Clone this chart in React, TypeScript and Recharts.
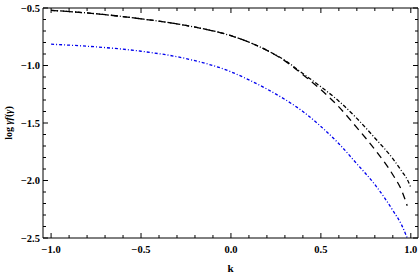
import React from 'react';
import { Label, Line, LineChart, XAxis, YAxis } from 'recharts';

// sample points along k
const K = [-1, -0.75, -0.5, -0.25, 0, 0.1, 0.2, 0.3, 0.4, 0.5, 0.6, 0.7, 0.8, 0.9, 0.95, 0.98, 1.0];
// black dot-dashed curve
const DOT_DASHED = [-0.52, -0.55, -0.594, -0.652, -0.741, -0.797, -0.868, -0.955, -1.07, -1.185, -1.31, -1.46, -1.63, -1.81, -1.92, -1.99, -2.06];
// black long-dashed curve
const LONG_DASHED = [-0.52, -0.55, -0.594, -0.652, -0.741, -0.797, -0.868, -0.96, -1.08, -1.21, -1.36, -1.54, -1.73, -1.95, -2.09, -2.22, null];
// blue curve
const BLUE = [-0.815, -0.838, -0.876, -0.94, -1.055, -1.125, -1.205, -1.295, -1.4, -1.53, -1.68, -1.855, -2.035, -2.26, -2.39, -2.5, null];

const X_TICKS = [-1, -0.9, -0.8, -0.7, -0.6, -0.5, -0.4, -0.3, -0.2, -0.1, 0, 0.1, 0.2, 0.3, 0.4, 0.5, 0.6, 0.7, 0.8, 0.9, 1];
const Y_TICKS = [-2.5, -2.4, -2.3, -2.2, -2.1, -2, -1.9, -1.8, -1.7, -1.6, -1.5, -1.4, -1.3, -1.2, -1.1, -1, -0.9, -0.8, -0.7, -0.6, -0.5];

const data = K.map((k, i) => ({ k, a: DOT_DASHED[i], b: LONG_DASHED[i], c: BLUE[i] }));

const FONT = '"Liberation Serif", "DejaVu Serif", serif';
const isMajor = (v: number) => Math.abs(v * 2 - Math.round(v * 2)) < 1e-6;
const fmt = (v: number) => (v < 0 ? '\u2212' : '') + Math.abs(v).toFixed(1);
const len = (v: number) => (isMajor(v) ? 5 : 3);

const BottomTick = ({ x, y, payload }: any) => (
  <g>
    <line x1={x} y1={y} x2={x} y2={y - len(payload.value)} stroke="#000" />
    {isMajor(payload.value) && (
      <text x={x} y={y + 15} textAnchor="middle" fontFamily={FONT} fontWeight="bold" fontSize={10.5} fill="#000">
        {fmt(payload.value)}
      </text>
    )}
  </g>
);
const TopTick = ({ x, y, payload }: any) => (
  <line x1={x} y1={y} x2={x} y2={y + len(payload.value)} stroke="#000" />
);
const LeftTick = ({ x, y, payload }: any) => (
  <g>
    <line x1={x} y1={y} x2={x + len(payload.value)} y2={y} stroke="#000" />
    {isMajor(payload.value) && (
      <text x={x - 3} y={y + 3.5} textAnchor="end" fontFamily={FONT} fontWeight="bold" fontSize={10.5} fill="#000">
        {fmt(payload.value)}
      </text>
    )}
  </g>
);
const RightTick = ({ x, y, payload }: any) => (
  <line x1={x} y1={y} x2={x - len(payload.value)} y2={y} stroke="#000" />
);

const YLabel = ({ viewBox }: any) => {
  const cx = viewBox.x + 8;
  const cy = viewBox.y + viewBox.height / 2;
  return (
    <text x={cx} y={cy} transform={`rotate(-90, ${cx}, ${cy})`} textAnchor="middle" dominantBaseline="central"
      fontFamily={FONT} fontWeight="bold" fontSize={10} fill="#000">
      log <tspan fontStyle="italic">γf</tspan>(<tspan fontStyle="italic">γ</tspan>)
    </text>
  );
};

const X_DOMAIN = [-1.045, 1.04];
const Y_DOMAIN = [-2.5, -0.5];

export default function App() {
  return (
    <div style={{ position: 'absolute', left: 0, top: 0 }}>
      <LineChart width={420} height={276} data={data} margin={{ top: 7, right: 1, bottom: 0, left: 0 }}>
        <XAxis xAxisId="b" dataKey="k" type="number" domain={X_DOMAIN} ticks={X_TICKS} interval={0}
          allowDataOverflow height={38} tickSize={0} tickMargin={0} tickLine={false} tick={<BottomTick />}
          axisLine={{ stroke: '#000' }}>
          <Label value="k" position="insideBottom" offset={4} fontFamily={FONT} fontWeight="bold" fontSize={11} fill="#000" />
        </XAxis>
        <XAxis xAxisId="t" orientation="top" dataKey="k" type="number" domain={X_DOMAIN} ticks={X_TICKS} interval={0}
          allowDataOverflow height={1} tickSize={0} tickMargin={0} tickLine={false} tick={<TopTick />}
          axisLine={{ stroke: '#000' }} />
        <YAxis yAxisId="l" type="number" domain={Y_DOMAIN} ticks={Y_TICKS} interval={0} allowDataOverflow
          width={43} tickSize={0} tickMargin={0} tickLine={false} tick={<LeftTick />} axisLine={{ stroke: '#000' }}>
          <Label content={<YLabel />} />
        </YAxis>
        <YAxis yAxisId="r" orientation="right" type="number" domain={Y_DOMAIN} ticks={Y_TICKS} interval={0}
          allowDataOverflow width={1} tickSize={0} tickMargin={0} tickLine={false} tick={<RightTick />}
          axisLine={{ stroke: '#000' }} />
        <Line xAxisId="b" yAxisId="l" type="monotone" dataKey="c" stroke="#0000ee" strokeWidth={1.3}
          strokeDasharray="3 2 1 2" dot={false} isAnimationActive={false} />
        <Line xAxisId="b" yAxisId="l" type="monotone" dataKey="b" stroke="#000" strokeWidth={1.3}
          strokeDasharray="7 5" dot={false} isAnimationActive={false} />
        <Line xAxisId="b" yAxisId="l" type="monotone" dataKey="a" stroke="#000" strokeWidth={1.3}
          strokeDasharray="4 2 1 2" dot={false} isAnimationActive={false} />
      </LineChart>
    </div>
  );
}
